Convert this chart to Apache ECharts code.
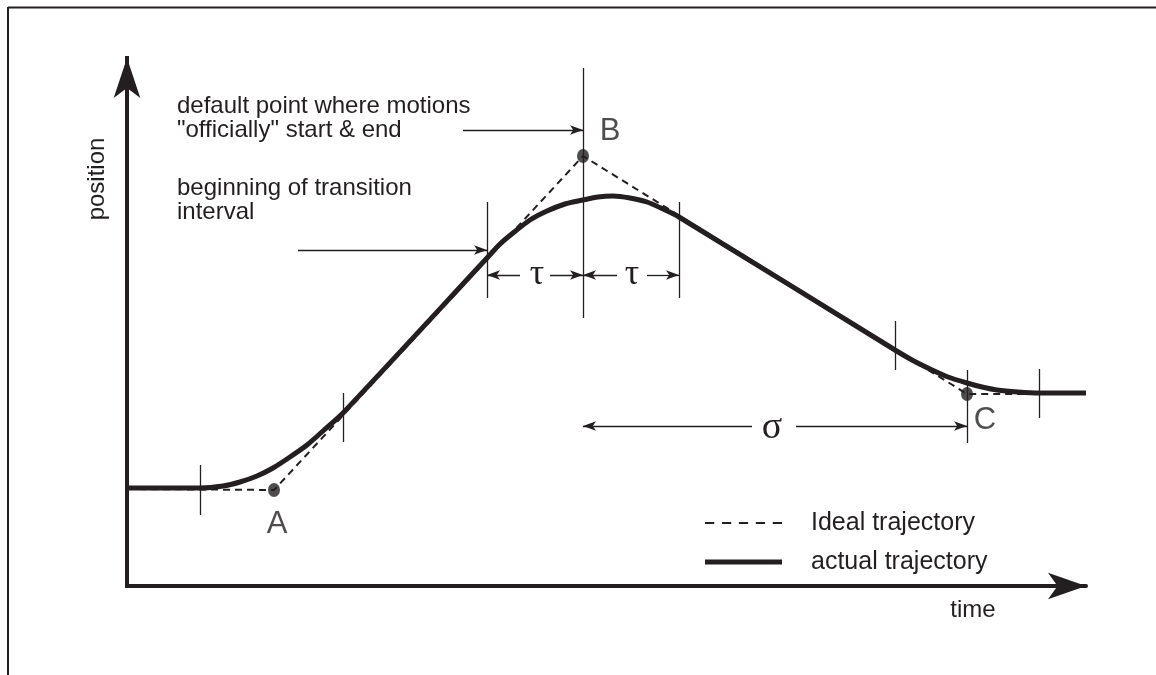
<!DOCTYPE html>
<html>
<head>
<meta charset="utf-8">
<script src="https://cdn.jsdelivr.net/npm/echarts@6/dist/echarts.min.js"></script>
<style>
  html, body { margin: 0; padding: 0; background: #fff; }
  #chart { width: 1156px; height: 675px; }
</style>
</head>
<body>
<div id="chart"></div>
<script>
// time / position readings, in pixel-sized units from the axes origin
const idealX = [0, 147, 456, 840, 959];
const idealY = [97, 96, 430, 192, 192];

const actualX = [0, 73, 96, 113, 130, 146, 163, 180, 196, 216, 360, 373, 386, 403, 420, 438, 456, 471, 486, 503, 520, 536, 552, 768, 785, 803, 821, 840, 855, 870, 891, 912, 959];
const actualY = [98, 98, 100, 104, 110, 118, 129, 141, 155, 173, 328, 342, 353, 366, 375, 382, 386, 389, 390, 388, 384, 377, 369, 236, 226, 217, 209, 203, 199, 196, 194, 193, 193];

// via points A, B, C
const pointNames = ['A', 'B', 'C'];
const pointX = [147, 456, 840];
const pointY = [96, 430, 192];

// transition markers: [x, yLow, yHigh]
const markerLines = [
  [73, 71, 121], [216, 144, 193], [360, 288, 384], [456, 268, 518],
  [552, 288, 384], [768, 216, 265], [840, 143, 216], [912, 168, 217]
];

// annotation arrows: [xFrom, yFrom, xTo, yTo], head at "to"
const arrowLines = [
  [336, 456, 456, 456],
  [171, 336, 360, 336],
  [393, 311, 360, 311], [423, 311, 456, 311],
  [490, 311, 456, 311], [520, 311, 552, 311],
  [625, 160, 456, 160], [669, 160, 840, 160]
];

const ink = '#231f20';
const sans = '"Liberation Sans", Arial, Helvetica, sans-serif';
const serif = '"Liberation Serif", "DejaVu Serif", serif';

const zip = (xs, ys) => xs.map((x, i) => [x, ys[i]]);

const labelOffsets = { A: [3, 34], B: [27, -25], C: [18, 26] };

const chart = echarts.init(document.getElementById('chart'));

const txt = (text, x, y, opts = {}) => ({
  type: 'text',
  x: x, y: y,
  rotation: opts.rotation || 0,
  silent: true,
  style: {
    text: text,
    fill: ink,
    font: (opts.size || 24) + 'px ' + (opts.family || sans),
    textAlign: opts.align || 'left',
    textVerticalAlign: 'middle'
  }
});

chart.setOption({
  animation: false,
  backgroundColor: '#fff',
  grid: { left: 127, right: 70, top: 58, bottom: 89 },
  xAxis: {
    type: 'value', min: 0, max: 959,
    axisLine: {
      onZero: false,
      symbol: ['none', 'arrow'], symbolSize: [20, 38],
      lineStyle: { color: ink, width: 4 }
    },
    axisTick: { show: false }, axisLabel: { show: false }, splitLine: { show: false }
  },
  yAxis: {
    type: 'value', min: 0, max: 528,
    axisLine: {
      onZero: false,
      symbol: ['none', 'arrow'], symbolSize: [20, 40],
      lineStyle: { color: ink, width: 4, cap: 'square' }
    },
    axisTick: { show: false }, axisLabel: { show: false }, splitLine: { show: false }
  },
  legend: {
    orient: 'vertical',
    left: 700, top: 504,
    itemWidth: 77, itemHeight: 14, itemGap: 11,
    selectedMode: false,
    textStyle: { color: ink, fontSize: 25, fontFamily: sans, lineHeight: 28, padding: [0, 0, 0, 24] },
    data: [
      { name: 'Ideal trajectory', icon: 'path://M0,0h18v4h-18z M33,0h18v4h-18z M66,0h18v4h-18z M99,0h18v4h-18z M132,0h18v4h-18z' },
      { name: 'actual trajectory', icon: 'path://M0,0h78v5h-78z' }
    ]
  },
  series: [
    {
      name: 'Ideal trajectory',
      type: 'line',
      data: zip(idealX, idealY),
      symbol: 'none',
      clip: false,
      z: 2,
      color: ink,
      lineStyle: { color: ink, width: 2, type: [7, 5] }
    },
    {
      name: 'actual trajectory',
      type: 'line',
      data: zip(actualX, actualY),
      symbol: 'none',
      smooth: 0.25,
      clip: false,
      z: 3,
      color: ink,
      lineStyle: { color: ink, width: 5 }
    },
    {
      name: 'points',
      type: 'scatter',
      clip: false,
      z: 4,
      symbol: 'circle',
      symbolSize: [12, 14],
      itemStyle: { color: ink },
      data: pointNames.map((n, i) => ({
        name: n,
        value: [pointX[i], pointY[i]],
        label: { offset: labelOffsets[n] }
      })),
      label: {
        show: true, position: 'inside', formatter: '{b}',
        color: ink, fontSize: 31, fontFamily: sans
      },
      markLine: {
        silent: true,
        animation: false,
        symbol: ['none', 'none'],
        label: { show: false },
        lineStyle: { color: ink, width: 1.3, type: 'solid' },
        emphasis: { disabled: true },
        data: [
          ...markerLines.map(m => [
            { coord: [m[0], m[1]] },
            { coord: [m[0], m[2]] }
          ]),
          ...arrowLines.map(a => [
            { coord: [a[0], a[1]] },
            { coord: [a[2], a[3]], symbol: 'arrow', symbolSize: [7, 13] }
          ])
        ]
      }
    }
  ],
  graphic: [
    { type: 'line', silent: true, shape: { x1: 8, y1: 7.5, x2: 1156, y2: 7.5 }, style: { stroke: ink, lineWidth: 2 } },
    { type: 'line', silent: true, shape: { x1: 8, y1: 7, x2: 8, y2: 675 }, style: { stroke: ink, lineWidth: 2 } },
    txt('position', 97, 179, { rotation: Math.PI / 2, align: 'center' }),
    txt('time', 973, 610, { align: 'center' }),
    txt('default point where motions', 177, 106),
    txt('"officially" start & end', 177, 130),
    txt('beginning of transition', 177, 188),
    txt('interval', 177, 212),
    txt('\u03c4', 537, 275, { family: serif, size: 36, align: 'center' }),
    txt('\u03c4', 632, 275, { family: serif, size: 36, align: 'center' }),
    txt('\u03c3', 772, 428, { family: serif, size: 38, align: 'center' })
  ]
});
</script>
</body>
</html>
